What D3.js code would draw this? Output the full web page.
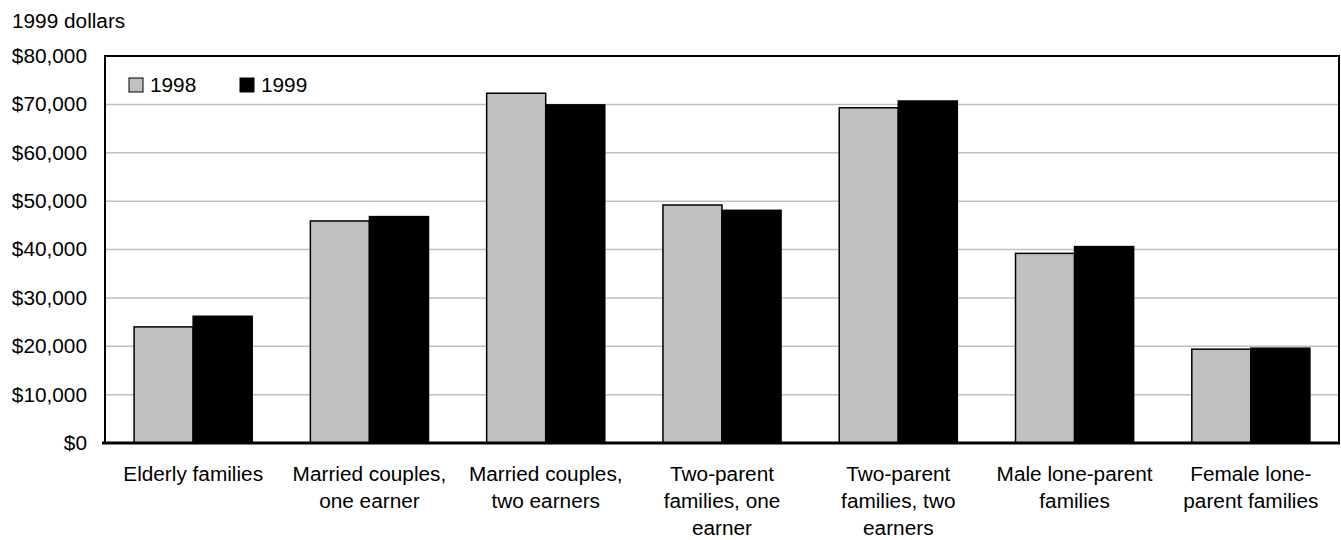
<!DOCTYPE html>
<html>
<head>
<meta charset="utf-8">
<script src="https://cdn.jsdelivr.net/npm/d3@7"></script>
<style>
  html, body { margin: 0; padding: 0; background: #fff; }
  svg text { font-family: "Liberation Sans", Arial, sans-serif; fill: #000; }
</style>
</head>
<body>
<svg id="chart" width="1341" height="540"></svg>
<script>
// ---- data ----
const categories = [
  "Elderly families",
  "Married couples,\none earner",
  "Married couples,\ntwo earners",
  "Two-parent\nfamilies, one\nearner",
  "Two-parent\nfamilies, two\nearners",
  "Male lone-parent\nfamilies",
  "Female lone-\nparent families"
];
const seriesNames = ["1998", "1999"];
const values1998 = [24000, 45900, 72300, 49200, 69300, 39200, 19400];
const values1999 = [26200, 46800, 69900, 48100, 70700, 40600, 19600];
const yTicks = [0, 10000, 20000, 30000, 40000, 50000, 60000, 70000, 80000];
const yUnitLabel = "1999 dollars";

// ---- layout ----
const SX = 1.04;           // slight horizontal stretch of glyphs as in reference
const FS = 20;
const plotL = 105, plotR = 1339, plotT = 56, plotB = 443;
const colors = { "1998": "#c0c0c0", "1999": "#000000" };

const svg = d3.select("#chart");
const data = categories.map((c, i) => ({ cat: c, vals: [values1998[i], values1999[i]] }));

const y = d3.scaleLinear().domain([0, 80000]).range([plotB, plotT]);
const x0 = d3.scaleBand().domain(categories).range([plotL, plotR]).paddingInner(0.33).paddingOuter(0.165);
const x1 = d3.scaleBand().domain(seriesNames).range([0, x0.bandwidth()]).padding(0);

// gridlines
svg.append("g").selectAll("line")
  .data(yTicks.filter(t => t > 0 && t < 80000))
  .join("line")
  .attr("x1", plotL).attr("x2", plotR)
  .attr("y1", d => y(d)).attr("y2", d => y(d))
  .attr("stroke", "#c0c0c0").attr("stroke-width", 1.5);

// bars
const groups = svg.append("g").selectAll("g")
  .data(data).join("g")
  .attr("transform", d => `translate(${x0(d.cat)},0)`);
groups.selectAll("rect")
  .data(d => d.vals.map((v, i) => ({ s: seriesNames[i], v })))
  .join("rect")
  .attr("x", d => x1(d.s))
  .attr("y", d => y(d.v))
  .attr("width", x1.bandwidth())
  .attr("height", d => y(0) - y(d.v))
  .attr("fill", d => colors[d.s])
  .attr("stroke", "#000")
  .attr("stroke-width", 1.5);

// frame (left, top, right)
svg.append("path")
  .attr("d", `M${plotL},${plotB} V${plotT} H${plotR} V${plotB}`)
  .attr("fill", "none").attr("stroke", "#000").attr("stroke-width", 2);

// bottom axis line
svg.append("line")
  .attr("x1", plotL - 3).attr("x2", plotR + 1)
  .attr("y1", plotB).attr("y2", plotB)
  .attr("stroke", "#000").attr("stroke-width", 3);

// y axis labels via d3 axis
const yAxis = d3.axisLeft(y).tickValues(yTicks).tickSize(0).tickPadding(0)
  .tickFormat(d => "$" + d3.format(",")(d));
const ya = svg.append("g").attr("transform", `translate(${plotL - 18},0)`).call(yAxis);
ya.select(".domain").remove();
ya.selectAll("text")
  .attr("font-size", FS)
  .attr("font-family", "Liberation Sans, Arial, sans-serif")
  .attr("fill", "#000")
  .attr("x", 0)
  .attr("transform", `scale(${SX},1)`);

// unit label
svg.append("text")
  .attr("transform", `translate(12,28) scale(${SX},1)`)
  .attr("font-size", FS)
  .text(yUnitLabel);

// x labels
const xl = svg.append("g").selectAll("g")
  .data(categories).join("g")
  .attr("transform", d => `translate(${x0(d) + x0.bandwidth() / 2},481) scale(${SX},1)`);
xl.each(function(d) {
  const t = d3.select(this).append("text").attr("text-anchor", "middle").attr("font-size", FS);
  d.split("\n").forEach((line, i) => {
    t.append("tspan").attr("x", 0).attr("y", i * 27).text(line);
  });
});

// legend
const legendX = [129, 240];
const lg = svg.append("g").selectAll("g")
  .data(seriesNames).join("g")
  .attr("transform", (d, i) => `translate(${legendX[i]},78)`);
lg.append("rect")
  .attr("width", 14).attr("height", 14)
  .attr("fill", d => colors[d]).attr("stroke", "#000").attr("stroke-width", 1);
lg.append("text")
  .attr("transform", `translate(21,14) scale(${SX},1)`)
  .attr("font-size", FS)
  .text(d => d);
</script>
</body>
</html>
